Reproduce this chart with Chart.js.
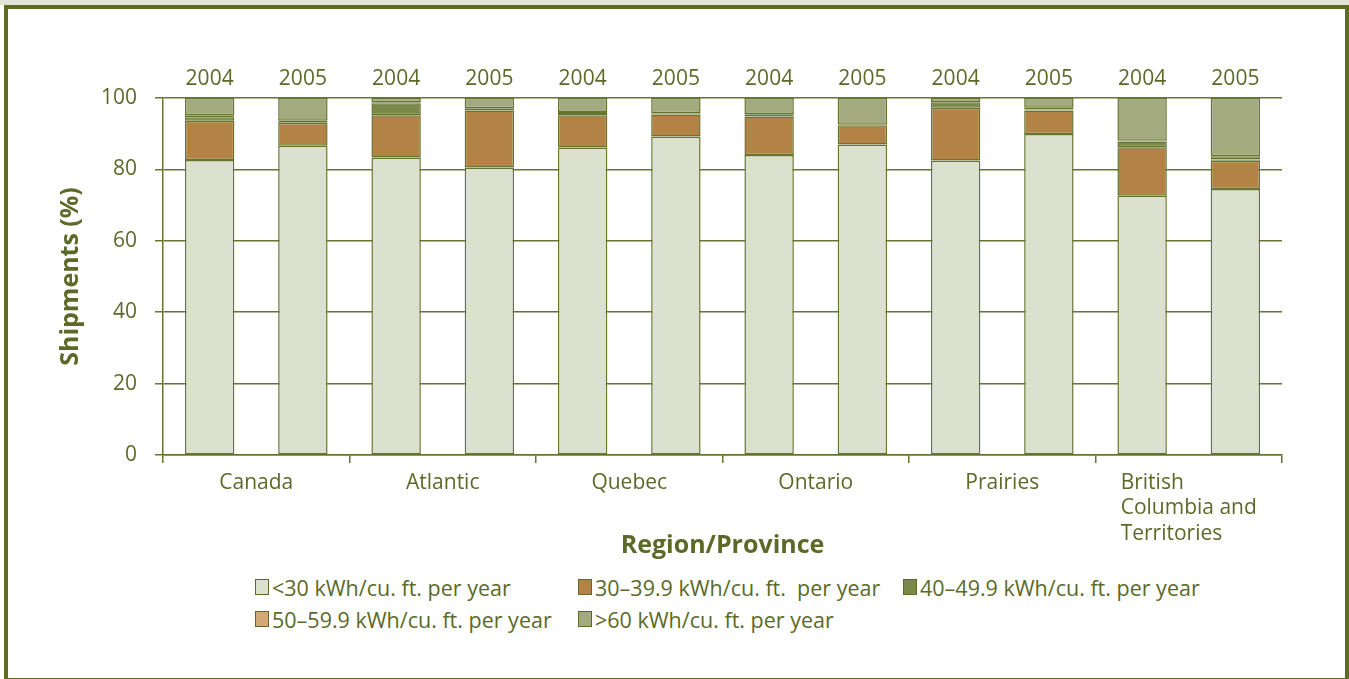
<!DOCTYPE html>
<html>
<head>
<meta charset="utf-8">
<script src="https://cdn.jsdelivr.net/npm/chart.js@4.4.1/dist/chart.umd.min.js"></script>
<style>
  html, body { margin:0; padding:0; background:#fff; }
  body { width:1349px; height:679px; position:relative; overflow:hidden; font-family:"Open Sans", sans-serif; }
  .topstrip { position:absolute; left:0; top:0; width:1349px; height:5px; background:#e2e4d6; }
  .frame { position:absolute; left:4px; top:5px; width:1345px; height:677px; box-sizing:border-box; border:4px solid #5e6b28; }
  #chart { position:absolute; left:0; top:0; }
  .legend { position:absolute; left:255px; top:576px; display:grid; grid-template-columns:323px 325px 320px; row-gap:10px; color:#5b6a28; font-size:21.5px; }
  .legend .item { display:flex; align-items:center; height:22px; white-space:pre; }
  .legend .box { width:12px; height:14px; border:1px solid #5e6b28; margin-right:3px; flex:none; }
</style>
</head>
<body>
<div class="topstrip"></div>
<div class="frame"></div>
<canvas id="chart" width="1349" height="570"></canvas>
<div class="legend" id="legend"></div>
<script>
const TEXT = '#5b6a28';
const LINE = '#66752f';
const FAMILY = '"Open Sans", sans-serif';

// one bar per region and year
const years = ['2004','2005','2004','2005','2004','2005','2004','2005','2004','2005','2004','2005'];
const regions = ['Canada','Atlantic','Quebec','Ontario','Prairies',['British','Columbia and','Territories']];

// shipments (%) by consumption band
const under30  = [82.6, 86.6, 83.3, 80.5, 86.1, 89.2, 84.0, 87.0, 82.5, 89.9, 72.6, 74.5];
const band30   = [11.0,  6.5, 11.9, 16.0,  9.1,  6.2, 10.8,  5.4, 14.8,  6.6, 13.6,  7.9];
const band40   = [ 1.0,  0.2,  3.3,  0.6,  0.6,  0.1,  0.5,  0.1,  1.5,  0.3,  1.6,  0.4];
const band50   = [ 0.6,  0.3,  0.3,  0.0,  0.3,  0.2,  0.2,  0.0,  0.1,  0.5,  0.2,  0.9];
const over60   = [ 4.8,  6.4,  1.2,  2.9,  3.9,  4.3,  4.5,  7.5,  1.1,  2.7, 12.0, 16.3];

const series = [
  {label:'<30 kWh/cu. ft. per year',       data:under30, color:'#dce0cf'},
  {label:'30–39.9 kWh/cu. ft.  per year',  data:band30,  color:'#b38345'},
  {label:'40–49.9 kWh/cu. ft. per year',   data:band40,  color:'#7a884a'},
  {label:'50–59.9 kWh/cu. ft. per year',   data:band50,  color:'#d3a876'},
  {label:'>60 kWh/cu. ft. per year',       data:over60,  color:'#a2aa7e'}
];

const yTicks = [0, 20, 40, 60, 80, 100];

const datasets = series.map(s => ({
  label: s.label,
  data: s.data,
  backgroundColor: s.color,
  borderColor: '#65742e',
  borderWidth: 1.5,
  borderSkipped: false,
  barPercentage: 0.53,
  categoryPercentage: 1
}));

const font = (size, weight) => ({family: FAMILY, size, weight: weight || 'normal', lineHeight: 1.3});

// region names: multi-line names are left aligned as a block centred on the group
const regionLabels = {
  id: 'regionLabels',
  afterDraw(chart) {
    const sc = chart.scales.xg;
    const ctx = chart.ctx;
    ctx.save();
    ctx.font = `21px ${FAMILY}`;
    ctx.fillStyle = TEXT;
    ctx.textBaseline = 'middle';
    ctx.textAlign = 'left';
    regions.forEach((r, i) => {
      const lines = Array.isArray(r) ? r : [r];
      const w = Math.max(...lines.map(l => ctx.measureText(l).width));
      const x = sc.getPixelForTick(i) - w / 2;
      lines.forEach((l, j) => ctx.fillText(l, x, sc.top + 28 + j * 25.5));
    });
    ctx.restore();
  }
};

new Chart(document.getElementById('chart'), {
  type: 'bar',
  data: { labels: years.map((y, i) => i), datasets },
  plugins: [regionLabels],
  options: {
    responsive: false,
    animation: false,
    devicePixelRatio: 1,
    layout: { padding: { left: 44, right: 67, top: 56, bottom: 4 } },
    plugins: { legend: { display: false }, tooltip: { enabled: false } },
    scales: {
      x: { stacked: true, display: false },
      xt: {
        type: 'category', position: 'top', labels: years, offset: true,
        grid: { display: false }, border: { display: false },
        ticks: { color: TEXT, font: font(21), padding: -3, maxRotation: 0, autoSkip: false },
        afterFit: s => { s.height = 42; }
      },
      xg: {
        type: 'category', position: 'bottom', labels: regions, offset: true,
        grid: { offset: true, drawOnChartArea: false, color: LINE, lineWidth: 1.5, tickLength: 8 },
        border: { color: LINE, width: 1.5 },
        ticks: { display: false },
        title: { display: true, text: 'Region/Province', color: TEXT, font: font(25, 'bold'), padding: { top: 0, bottom: 4 } },
        afterFit: s => { s.height = 111; }
      },
      y: {
        stacked: true, min: 0, max: 100,
        afterBuildTicks: s => { s.ticks = yTicks.map(v => ({value: v})); },
        grid: { color: LINE, lineWidth: 1.5, tickLength: 8 },
        border: { color: LINE, width: 1.5 },
        ticks: { color: TEXT, font: font(21), padding: 18 },
        title: { display: true, text: 'Shipments (%)', color: TEXT, font: font(25, 'bold'), padding: { top: 11, bottom: 0 } },
        afterFit: s => { s.width = 119; }
      }
    }
  }
});

document.getElementById('legend').innerHTML = series.map(s =>
  `<div class="item"><span class="box" style="background:${s.color}"></span>${s.label}</div>`).join('');
</script>
</body>
</html>
